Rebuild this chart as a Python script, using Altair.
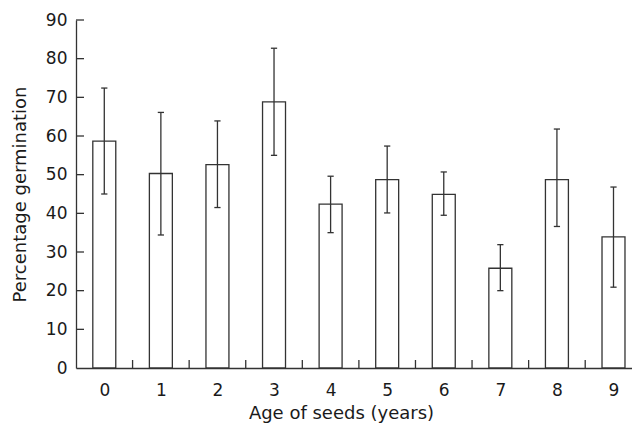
import altair as alt
import pandas as pd

ages = [0, 1, 2, 3, 4, 5, 6, 7, 8, 9]
means = [58.7, 50.3, 52.6, 68.8, 42.4, 48.7, 44.9, 25.8, 48.7, 33.9]
upper = [72.4, 66.1, 63.9, 82.7, 49.6, 57.4, 50.7, 31.9, 61.8, 46.8]
lower = [45.0, 34.4, 41.5, 55.0, 35.0, 40.1, 39.5, 20.0, 36.6, 20.9]
y_labels = [0, 10, 20, 30, 40, 50, 60, 70, 80, 90]
y_ticks = [10, 20, 30, 40, 50, 60, 70, 80, 90]
x_tick_pos = [0.5, 1.5, 2.5, 3.5, 4.5, 5.5, 6.5, 7.5, 8.5]

W, H = 556, 348
FONT = "DejaVu Sans"
INK = "#333333"
TXT = "#1a1a1a"

df = pd.DataFrame({"age": ages, "mean": means, "hi": upper, "lo": lower})
yt = pd.DataFrame({"v": y_ticks})
xt = pd.DataFrame({"p": x_tick_pos})

xs = alt.Scale(domain=[-0.5, 9.327], nice=False, zero=False, padding=0)
ys = alt.Scale(domain=[0, 90], nice=False, padding=0)

xa = alt.Axis(title="Age of seeds (years)", values=ages, format="d",
              ticks=False, grid=False, labelPadding=14, labelOverlap=False,
              labelFontSize=17, labelFont=FONT, labelColor=TXT,
              titleFont=FONT, titleFontSize=18, titleFontWeight="normal",
              titleColor=TXT, titleX=265, titleY=50, titleBaseline="alphabetic",
              domainColor=INK, domainWidth=1.3)
ya = alt.Axis(title="Percentage germination", values=y_labels, format="d",
              ticks=False, grid=False, labelPadding=9, labelOverlap=False,
              labelFontSize=17, labelFont=FONT, labelColor=TXT,
              titleFont=FONT, titleFontSize=18, titleFontWeight="normal",
              titleColor=TXT, titlePadding=16,
              domainColor=INK, domainWidth=1.3)

base = alt.Chart(df).transform_calculate(
    bl="datum.age - 0.203", br="datum.age + 0.203",
    cl="datum.age - 0.055", cr="datum.age + 0.055",
)

bars = base.mark_bar(fill="white", stroke=INK, strokeWidth=1.3).encode(
    x=alt.X("bl:Q", scale=xs, axis=xa),
    x2="br:Q",
    y=alt.Y("mean:Q", scale=ys, axis=ya),
    y2=alt.datum(0),
)

err = base.mark_rule(color=INK, strokeWidth=1.3).encode(
    x=alt.X("age:Q", scale=xs, axis=xa),
    y=alt.Y("lo:Q", scale=ys, axis=ya),
    y2="hi:Q",
)
cap_hi = base.mark_rule(color=INK, strokeWidth=1.3).encode(
    x=alt.X("cl:Q", scale=xs, axis=xa), x2="cr:Q",
    y=alt.Y("hi:Q", scale=ys, axis=ya),
)
cap_lo = base.mark_rule(color=INK, strokeWidth=1.3).encode(
    x=alt.X("cl:Q", scale=xs, axis=xa), x2="cr:Q",
    y=alt.Y("lo:Q", scale=ys, axis=ya),
)

yticks = alt.Chart(yt).mark_rule(color=INK, strokeWidth=1.3).encode(
    y=alt.Y("v:Q", scale=ys, axis=ya),
    x=alt.value(0), x2=alt.value(8),
)
xticks = alt.Chart(xt).mark_rule(color=INK, strokeWidth=1.3).encode(
    x=alt.X("p:Q", scale=xs, axis=xa),
    y=alt.value(H - 8), y2=alt.value(H),
)

chart = alt.layer(bars, err, cap_hi, cap_lo, yticks, xticks).properties(
    width=W, height=H,
    autosize=alt.AutoSizeParams(type="none"),
    padding={"left": 68, "top": 12, "right": 0, "bottom": 55},
    background="white",
).configure_view(stroke=None)

chart.save("out.html", embed_options={"renderer": "svg", "actions": False})
